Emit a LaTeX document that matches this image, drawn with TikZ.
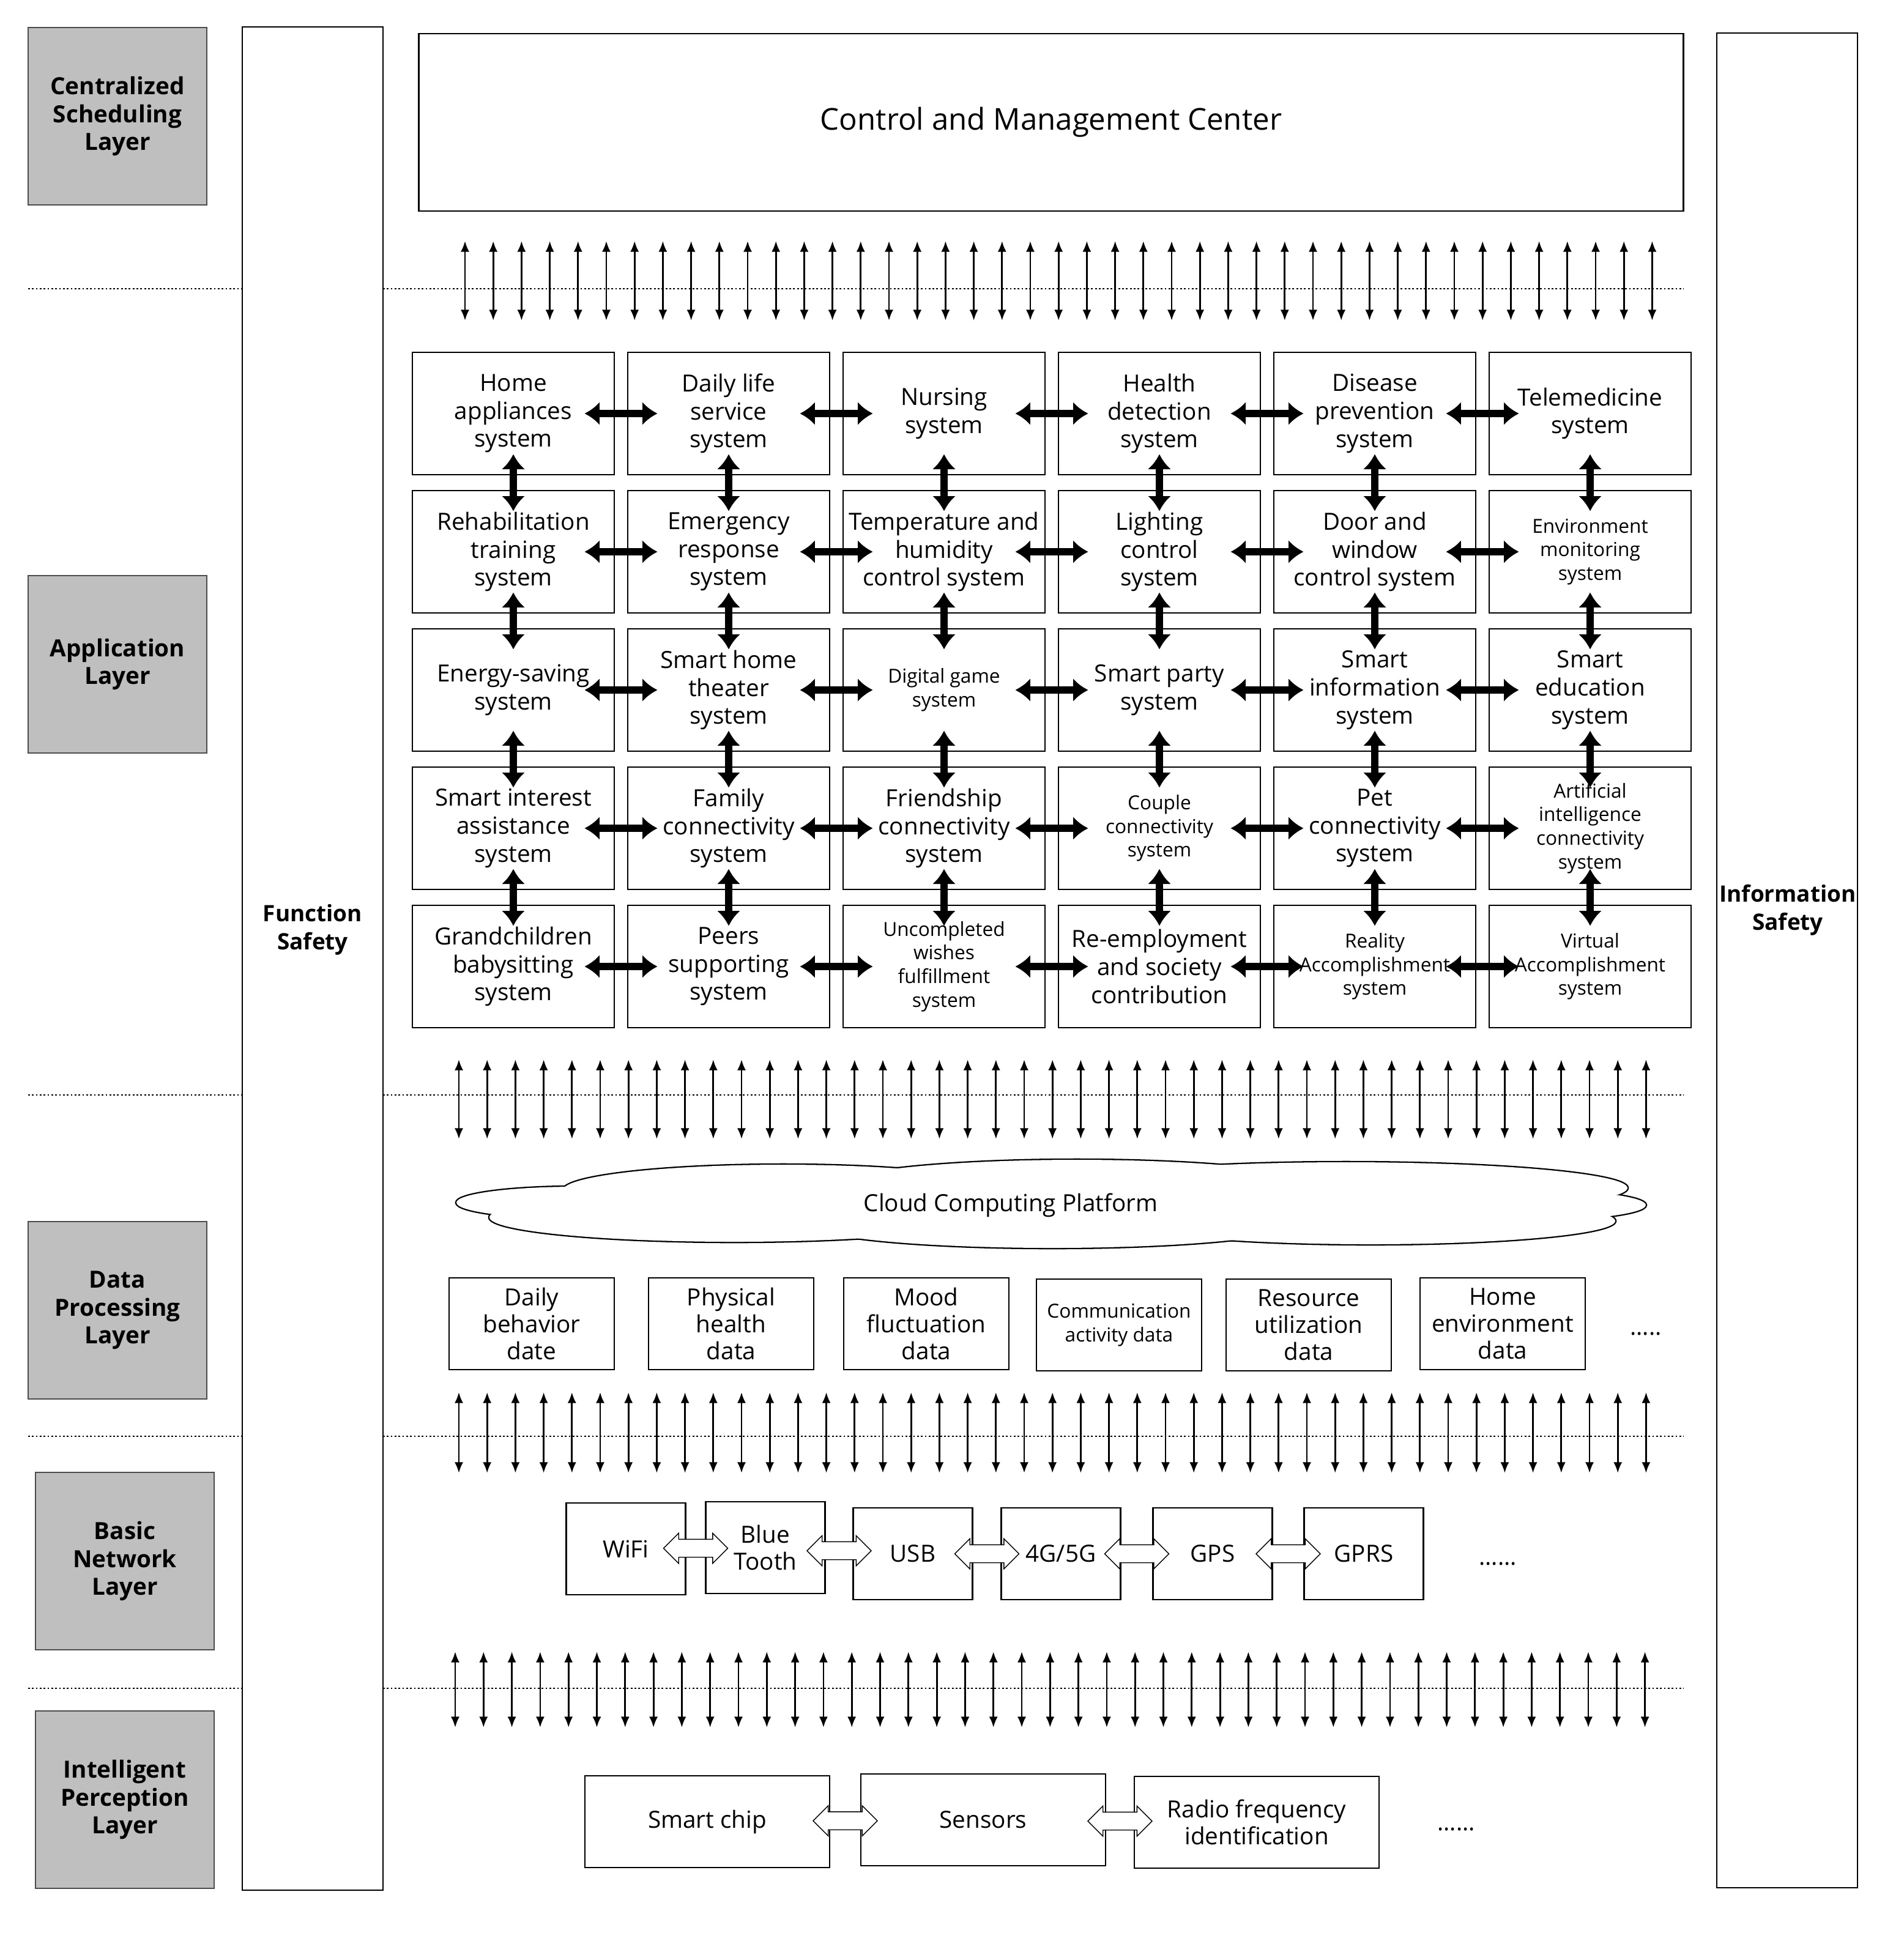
\documentclass[tikz,border=0pt]{standalone}
\usepackage{fontspec}
\setmainfont{Open Sans}
\usetikzlibrary{arrows.meta,shapes.arrows,calc}
\tikzset{
  layer/.style={draw=black!70,fill=black!25,minimum width=2.92cm,minimum height=2.9cm,align=center,font=\bfseries\fontsize{11}{13}\selectfont},
  safety/.style={align=center,inner sep=0pt,font=\bfseries\fontsize{10.5}{13}\selectfont},
  sys/.style={draw,thick,minimum width=3.3cm,minimum height=2cm,align=center,inner sep=1pt,font=\fontsize{11}{13}\selectfont},
  n/.style={},
  s/.style={font=\fontsize{9}{11}\selectfont},
  data/.style={draw,thick,minimum width=2.7cm,minimum height=1.5cm,align=center,inner sep=1pt,font=\fontsize{11}{12.5}\selectfont},
  net/.style={draw,thick,minimum width=1.95cm,minimum height=1.5cm,align=center,font=\fontsize{11}{12.5}\selectfont},
  per/.style={draw,thick,minimum width=4cm,minimum height=1.5cm,align=center,font=\fontsize{11}{12.5}\selectfont},
  bigarrow/.style={line width=3.5pt,{Latex[length=7pt,width=11pt]}-{Latex[length=7pt,width=11pt]}},
  thin arrow/.style={thick,{Latex[length=5pt,width=4pt]}-{Latex[length=5pt,width=4pt]}},
  hollow/.style={draw,fill=white,double arrow,double arrow head extend=0.1cm,minimum height=1.05cm,inner sep=0.14cm},
  sep line/.style={densely dotted,thick}
}
\begin{document}
\begin{tikzpicture}[x=0.02cm,y=-0.02cm]
\useasboundingbox (0,0) rectangle (1556,1580);
% layers
\node[layer] (csl) at (96,95) {Centralized\\Scheduling\\Layer};
\node[layer] (al) at (96,543) {Application\\Layer};
\node[layer] (dpl) at (96,1071) {Data\\Processing\\Layer};
\node[layer] (bnl) at (102,1276) {Basic\\Network\\Layer};
\node[layer] (ipl) at (102,1471) {Intelligent\\Perception\\Layer};
\draw (198,22) rectangle (313,1545);
\node[safety] (fs) at (255.5,760) {Function\\Safety};
\draw (1403,27) rectangle (1518,1543);
\node[safety] (is) at (1461,744) {Information\\Safety};
% dotted separators
\foreach \y in {236,895,1174,1380}{
  \draw[sep line] (23,\y) -- (198,\y);
  \draw[sep line] (313,\y) -- (1376,\y);
}
% top
\node[draw,thick,minimum width=20.68cm,minimum height=2.9cm,font=\fontsize{14}{16}\selectfont] (cmc) at (859,100) {Control and Management Center};
% arrow rows
\foreach \i in {0,...,42}{
  \draw[thin arrow] (380+23.1*\i,197) -- (380+23.1*\i,262);
  \draw[thin arrow] (375+23.1*\i,866) -- (375+23.1*\i,931);
  \draw[thin arrow] (375+23.1*\i,1138) -- (375+23.1*\i,1204);
  \draw[thin arrow] (372+23.15*\i,1350) -- (372+23.15*\i,1412);
}
% application systems
\foreach \t/\f [count=\k from 0] in {
  {Home\\appliances\\system}/n,{Daily life\\service\\system}/n,{Nursing\\system}/n,{Health\\detection\\system}/n,{Disease\\prevention\\system}/n,{Telemedicine\\system}/n,
  {Rehabilitation\\training\\system}/n,{Emergency\\response\\system}/n,{Temperature and\\humidity\\control system}/n,{Lighting\\control\\system}/n,{Door and\\window\\control system}/n,{Environment\\monitoring\\system}/s,
  {Energy-saving\\system}/n,{Smart home\\theater\\system}/n,{Digital game\\system}/s,{Smart party\\system}/n,{Smart\\information\\system}/n,{Smart\\education\\system}/n,
  {Smart interest\\assistance\\system}/n,{Family\\connectivity\\system}/n,{Friendship\\connectivity\\system}/n,{Couple\\connectivity\\system}/s,{Pet\\connectivity\\system}/n,{Artificial\\intelligence\\connectivity\\system}/s,
  {Grandchildren\\babysitting\\system}/n,{Peers\\supporting\\system}/n,{Uncompleted\\wishes\\fulfillment\\system}/s,{Re-employment\\and society\\contribution}/n,{Reality\\Accomplishment\\system}/s,{Virtual\\Accomplishment\\system}/s}{
  \pgfmathtruncatemacro\c{mod(\k,6)}
  \pgfmathtruncatemacro\r{div(\k,6)}
  \node[sys,\f] (s-\c-\r) at (419.5+176*\c,338+113*\r) {\t};
}
\foreach \r in {0,...,4}{
  \foreach \c [evaluate=\c as \n using int(\c+1)] in {0,...,4}{
    \draw[bigarrow,shorten <=-0.5cm,shorten >=-0.5cm] (s-\c-\r.east) -- (s-\n-\r.west);
  }
}
\foreach \c in {0,...,5}{
  \foreach \r [evaluate=\r as \n using int(\r+1)] in {0,...,3}{
    \draw[bigarrow,shorten <=-0.35cm,shorten >=-0.35cm] (s-\c-\r.south) -- (s-\c-\n.north);
  }
}
% cloud
\foreach \cx/\cy/\rx/\ry in {470/983/97/13, 600/995/200/20, 640/973/180/21, 880/970/200/22, 860/1000/200/20, 1100/971/230/21, 1120/998/200/19, 1240/985/105/13}{
  \draw[line width=1.3pt] (\cx,\cy) ellipse [x radius=\rx, y radius=\ry];
}
\foreach \cx/\cy/\rx/\ry in {470/983/97/13, 600/995/200/20, 640/973/180/21, 880/970/200/22, 860/1000/200/20, 1100/971/230/21, 1120/998/200/19, 1240/985/105/13}{
  \fill[white] (\cx,\cy) ellipse [x radius=\rx, y radius=\ry];
}
\node[font=\fontsize{11}{13}\selectfont] (ccp) at (826,985) {Cloud Computing Platform};
% data
\node[data] (d1) at (434.5,1082) {Daily\\behavior\\date};
\node[data] (d2) at (597.5,1082) {Physical\\health\\data};
\node[data] (d3) at (757,1082) {Mood\\fluctuation\\data};
\node[data,font=\fontsize{9}{11}\selectfont] (d4) at (914.5,1083) {Communication\\activity data};
\node[data] (d5) at (1069.5,1083) {Resource\\utilization\\data};
\node[data] (d6) at (1228,1082) {Home\\environment\\data};
\node[font=\fontsize{11}{13}\selectfont] (dmore) at (1345,1090) {.....};
% network
\node[net] (wifi) at (511.5,1266) {WiFi};
\node[net] (bt) at (625.5,1265) {Blue\\Tooth};
\node[net] (usb) at (746,1270) {USB};
\node[net] (g45) at (867,1270) {4G/5G};
\node[net] (gps) at (991,1270) {GPS};
\node[net] (gprs) at (1114.5,1270) {GPRS};
\node[font=\fontsize{11}{13}\selectfont] (nmore) at (1224,1278) {......};
\foreach \a/\b in {wifi/bt,bt/usb,usb/g45,g45/gps,gps/gprs}{
  \path (\a.east) -- (\b.west) node[midway,hollow] {};
}
% perception
\node[per] (chip) at (578,1489) {Smart chip};
\node[per] (sens) at (803.5,1487.5) {Sensors};
\node[per] (rfid) at (1027,1489.5) {Radio frequency\\identification};
\node[font=\fontsize{11}{13}\selectfont] (pmore) at (1190,1495) {......};
\foreach \a/\b in {chip/sens,sens/rfid}{
  \path (\a.east) -- (\b.west) node[midway,hollow] {};
}
\end{tikzpicture}
\end{document}
